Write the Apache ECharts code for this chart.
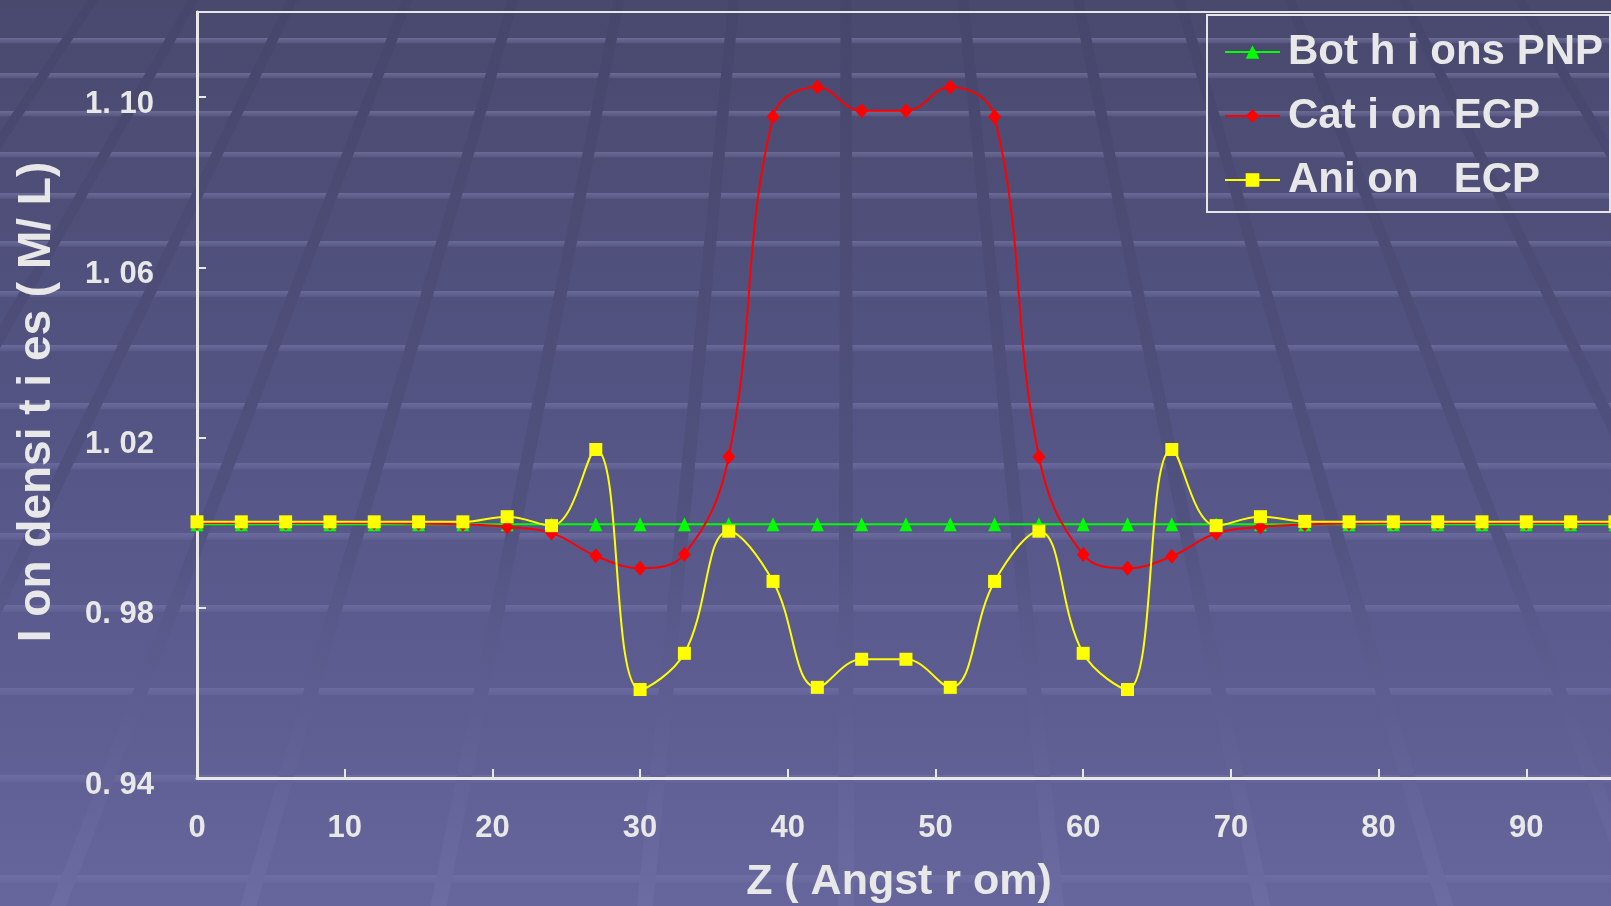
<!DOCTYPE html>
<html>
<head>
<meta charset="utf-8">
<script src="https://cdn.jsdelivr.net/npm/echarts@6/dist/echarts.min.js"></script>
<style>
html,body{margin:0;padding:0;background:#4a4a6f;overflow:hidden;}
#chart{width:1611px;height:906px;}
</style>
</head>
<body>
<div id="chart"></div>
<script>
// ---- data ----
const zValues = [0,3,6,9,12,15,18,21,24,27,30,33,36,39,42,45,48,51,54,57,60,63,66,69,72,75,78,81,84,87,90,93,96];
const bothIonsPNP = [0.9996,0.9996,0.9996,0.9996,0.9996,0.9996,0.9996,0.9996,0.9996,0.9996,0.9996,0.9996,0.9996,0.9996,0.9996,0.9996,0.9996,0.9996,0.9996,0.9996,0.9996,0.9996,0.9996,0.9996,0.9996,0.9996,0.9996,0.9996,0.9996,0.9996,0.9996,0.9996,0.9996];
const cationECP = [0.9999,0.9999,0.9999,0.9999,0.9999,0.9998,0.9996,0.9990,0.9976,0.9922,0.9893,0.9926,1.0155,1.0954,1.1024,1.0968,1.0968,1.1024,1.0954,1.0155,0.9925,0.9893,0.9921,0.9975,0.9990,0.9996,0.9998,0.9999,0.9999,0.9999,0.9999,0.9999,0.9999];
const anionECP = [1.0002,1.0002,1.0002,1.0002,1.0002,1.0002,1.0002,1.0014,0.9993,1.0172,0.9608,0.9693,0.9980,0.9862,0.9613,0.9679,0.9679,0.9613,0.9862,0.9980,0.9693,0.9608,1.0172,0.9993,1.0014,1.0003,1.0002,1.0002,1.0002,1.0002,1.0002,1.0002,1.0002];
const seriesNames = ['Bot h i ons PNP', 'Cat i on ECP', 'Ani on   ECP'];
const yTickValues = [0.94, 0.98, 1.02, 1.06, 1.10];
const xTickValues = [0, 10, 20, 30, 40, 50, 60, 70, 80, 90];
const xTitle = 'Z ( Angst r om)';
const yTitle = 'I on densi t i es ( M/ L)';

// ---- decorative slide background (perspective stripes) ----
const bgStripeY = [38, 73, 111, 152, 193, 241, 291, 345, 403, 463, 533, 605, 688, 775, 875];
const bgBandTopX = [-110, -10, 93, 193, 292, 407, 513, 619, 734, 846, 963, 1078, 1180, 1290, 1404, 1520, 1635, 1750];

const W = 1611, H = 906;
const FONT = '"Liberation Sans", Arial, sans-serif';
const TXT = '#e8e8e8';
const deco = [];

deco.push({
  type: 'rect', z: -30, silent: true,
  shape: {x: 0, y: 0, width: W, height: H},
  style: {fill: new echarts.graphic.LinearGradient(0, 0, 0, 1, [
    {offset: 0, color: '#49496e'},
    {offset: 0.5, color: '#555586'},
    {offset: 0.8, color: '#5e5e93'},
    {offset: 1, color: '#66669c'}
  ])}
});
bgStripeY.forEach(function (y) {
  const t = y / H;
  const h = 5 + 3 * t;
  const a = 0.34 - 0.22 * t;
  deco.push({
    type: 'rect', z: -20, silent: true,
    shape: {x: 0, y: y, width: W, height: h},
    style: {fill: new echarts.graphic.LinearGradient(0, 0, 0, 1, [
      {offset: 0, color: 'rgba(175,175,230,' + a + ')'},
      {offset: 1, color: 'rgba(175,175,230,' + (a * 0.35) + ')'}
    ])}
  });
});
const VPX = 846, VPY = -1140;
const bandGrad = new echarts.graphic.LinearGradient(0, 0, 0, H, [
  {offset: 0, color: '#46466b'},
  {offset: 0.55, color: '#51517f'},
  {offset: 0.8, color: '#5f5f94'},
  {offset: 1, color: '#6c6ca2'}
], true);
bgBandTopX.forEach(function (x0) {
  const fx = function (y) { return VPX + (x0 - VPX) * (y - VPY) / (-VPY); };
  const w0 = 11, w1 = 16;
  deco.push({
    type: 'polygon', z: -10, silent: true,
    shape: {points: [[fx(0) - w0 / 2, 0], [fx(0) + w0 / 2, 0], [fx(H) + w1 / 2, H], [fx(H) - w1 / 2, H]]},
    style: {fill: bandGrad}
  });
});
// legend frame
deco.push({
  type: 'rect', z: 5, silent: true,
  shape: {x: 1207, y: 15, width: 403, height: 197},
  style: {fill: 'rgba(0,0,0,0)', stroke: '#e6e6e6', lineWidth: 2}
});

function pairs(ys) { return zValues.map(function (x, i) { return [x, ys[i]]; }); }

const chart = echarts.init(document.getElementById('chart'), null, {renderer: 'canvas', width: W, height: H});
chart.setOption({
  animation: false,
  backgroundColor: '#4a4a6f',
  graphic: deco,
  grid: {
    left: 197, top: 12, height: 766, width: 1477,
    outerBoundsMode: 'none', containLabel: false,
    show: true, borderColor: '#e6e6e6', borderWidth: 2, backgroundColor: 'rgba(0,0,0,0)'
  },
  legend: {
    orient: 'vertical', left: 1224, top: 31, padding: 0,
    itemWidth: 55, itemHeight: 17, itemGap: 22,
    data: seriesNames,
    textStyle: {fontSize: 42, fontWeight: 'bold', fontFamily: FONT, color: TXT, lineHeight: 42, padding: [0, 0, 0, 3]}
  },
  xAxis: {
    type: 'value', min: 0, max: 100, interval: 10,
    name: xTitle, nameLocation: 'middle', nameGap: 83,
    nameTextStyle: {fontSize: 43, fontWeight: 'bold', fontFamily: FONT, color: TXT, padding: [0, 73, 0, 0]},
    axisLine: {show: true, onZero: false, lineStyle: {color: '#e8e8e8', width: 3}},
    axisTick: {show: true, inside: true, length: 9, lineStyle: {color: '#e8e8e8', width: 2}},
    axisLabel: {
      margin: 35, fontSize: 31, fontWeight: 'bold', fontFamily: FONT, color: TXT, showMaxLabel: false,
      formatter: function (v) { return xTickValues.indexOf(Math.round(v)) >= 0 ? String(Math.round(v)) : ''; }
    },
    splitLine: {show: false}
  },
  yAxis: {
    type: 'value', min: 0.94, max: 1.12, interval: 0.04,
    name: yTitle, nameLocation: 'middle', nameRotate: 90, nameGap: 137,
    nameTextStyle: {fontSize: 46, fontWeight: 'bold', fontFamily: FONT, color: TXT, padding: [0, 14, 0, 0]},
    axisLine: {show: true, onZero: false, lineStyle: {color: '#e8e8e8', width: 3}},
    axisTick: {show: true, inside: true, length: 9, lineStyle: {color: '#e8e8e8', width: 2}},
    axisLabel: {
      margin: 43, fontSize: 31, fontWeight: 'bold', fontFamily: FONT, color: TXT,
      verticalAlign: 'top', lineHeight: 14, showMaxLabel: false,
      formatter: function (v) {
        const ok = yTickValues.some(function (t) { return Math.abs(t - v) < 1e-6; });
        return ok ? v.toFixed(2).replace('.', '. ') : '';
      }
    },
    splitLine: {show: false}
  },
  series: [
    {
      name: seriesNames[0], type: 'line', data: pairs(bothIonsPNP), smooth: 0.4,
      symbol: 'triangle', symbolSize: [13, 14], showSymbol: true,
      lineStyle: {color: '#00ff00', width: 2}, itemStyle: {color: '#00ff00'}, z: 2
    },
    {
      name: seriesNames[1], type: 'line', data: pairs(cationECP), smooth: 0.4,
      symbol: 'diamond', symbolSize: [13, 15], showSymbol: true,
      lineStyle: {color: '#ff0000', width: 2}, itemStyle: {color: '#ff0000'}, z: 3
    },
    {
      name: seriesNames[2], type: 'line', data: pairs(anionECP), smooth: 0.4,
      symbol: 'rect', symbolSize: 13, showSymbol: true,
      lineStyle: {color: '#ffff00', width: 2}, itemStyle: {color: '#ffff00'}, z: 4
    }
  ]
});
</script>
</body>
</html>
